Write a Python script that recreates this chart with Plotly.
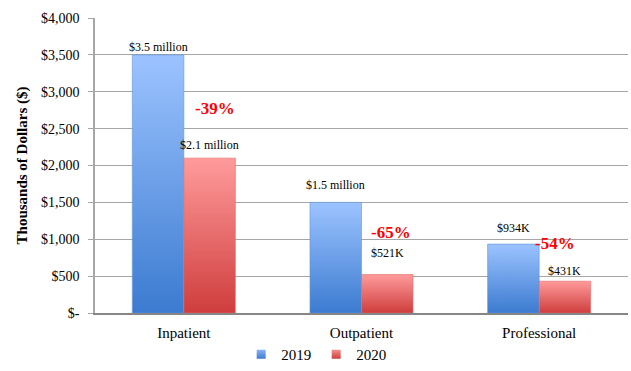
import plotly.graph_objects as go

categories = ["Inpatient", "Outpatient", "Professional"]
series_names = ["2019", "2020"]
values_2019 = [3500, 1500, 934]
values_2020 = [2100, 521, 431]
labels_2019 = ["$3.5 million", "$1.5 million", "$934K"]
labels_2020 = ["$2.1 million", "$521K", "$431K"]
pct_labels = ["-39%", "-65%", "-54%"]
y_tickvals = [0, 500, 1000, 1500, 2000, 2500, 3000, 3500, 4000]
y_ticktext = ["$-", "$500", "$1,000", "$1,500", "$2,000", "$2,500", "$3,000", "$3,500", "$4,000"]

# styling / layout constants
SERIF = "Liberation Serif, Times New Roman, serif"
BAR_W = 0.29
grad = {
    "2019": [[0, "#3c7bd0"], [1, "#9cc3ff"]],
    "2020": [[0, "#cf3d3d"], [1, "#ff9b9b"]],
}
legend_col = {"2019": ("#8ab4f5", "#3c7bd0"), "2020": ("#f59090", "#cf3d3d")}
line_col = {"2019": "#5d95e0", "2020": "#e06a6a"}
label_shift_2019 = [-1, 8, 7]
label_shift_2020 = [4, 13, 1]
pct_shift = [34, 18, 25]     # pixels above the 2020 value label
pct_dx = [0.03, 0.02, -0.055]

fig = go.Figure()

for s, vals in zip(series_names, [values_2019, values_2020]):
    for i, v in enumerate(vals):
        x0 = i - BAR_W if s == "2019" else i
        x1 = x0 + BAR_W
        fig.add_trace(go.Scatter(
            x=[x0, x1, x1, x0, x0], y=[0, 0, v, v, 0],
            mode="lines", fill="toself",
            fillgradient=dict(type="vertical", colorscale=grad[s], start=0, stop=v),
            line=dict(width=0.6, color=line_col[s]),
            name=s, legendgroup=s, showlegend=False,
            hoverinfo="skip",
        ))
    # legend entry
    fig.add_trace(go.Scatter(
        x=[None], y=[None], mode="markers", name=s, legendgroup=s,
        marker=dict(symbol="square", size=9, color=legend_col[s][0],
                    gradient=dict(type="vertical", color=legend_col[s][1]),
                    line=dict(width=0)),
        showlegend=True,
    ))

annos = []
for i in range(len(categories)):
    annos.append(dict(x=i - BAR_W / 2, y=values_2019[i], text=labels_2019[i],
                      yanchor="bottom", yshift=label_shift_2019[i], showarrow=False,
                      font=dict(family=SERIF, size=12, color="#000")))
    annos.append(dict(x=i + BAR_W / 2, y=values_2020[i], text=labels_2020[i],
                      yanchor="bottom", yshift=label_shift_2020[i], showarrow=False,
                      font=dict(family=SERIF, size=12, color="#000")))
    annos.append(dict(x=i + BAR_W / 2 + pct_dx[i], y=values_2020[i], text="<b>" + pct_labels[i] + "</b>",
                      yanchor="bottom", yshift=label_shift_2020[i] + pct_shift[i], showarrow=False,
                      font=dict(family=SERIF, size=17, color="#ff0000")))

fig.update_layout(
    width=631, height=371,
    margin=dict(l=95, r=3, t=18, b=58),
    paper_bgcolor="white", plot_bgcolor="white",
    font=dict(family=SERIF, color="#000"),
    annotations=annos,
    showlegend=True,
    legend=dict(orientation="h", x=0.415, xanchor="center",
                yref="container", y=-0.02, yanchor="bottom",
                bgcolor="rgba(0,0,0,0)",
                font=dict(family=SERIF, size=15), itemwidth=30,
                tracegroupgap=0),
    xaxis=dict(range=[-0.5, 2.5], tickvals=[0, 1, 2], ticktext=categories,
               showgrid=False, zeroline=False, showline=True, linecolor="#868686",
               linewidth=2, ticks="", tickfont=dict(family=SERIF, size=15),
               ticklabelstandoff=5,
               automargin=False, fixedrange=True),
    yaxis=dict(range=[0, 4000], tickvals=y_tickvals, ticktext=y_ticktext,
               showgrid=True, gridcolor="#a6a6a6", gridwidth=1, zeroline=False,
               showline=True, linecolor="#a6a6a6", linewidth=1.5,
               ticks="outside", ticklen=5, tickcolor="#a6a6a6",
               tickfont=dict(family=SERIF, size=14), ticklabelstandoff=6,
               title=dict(text="<b>Thousands of Dollars ($)</b>",
                          font=dict(family=SERIF, size=15), standoff=10),
               automargin=False, fixedrange=True),
)

fig.write_html("out.html")
